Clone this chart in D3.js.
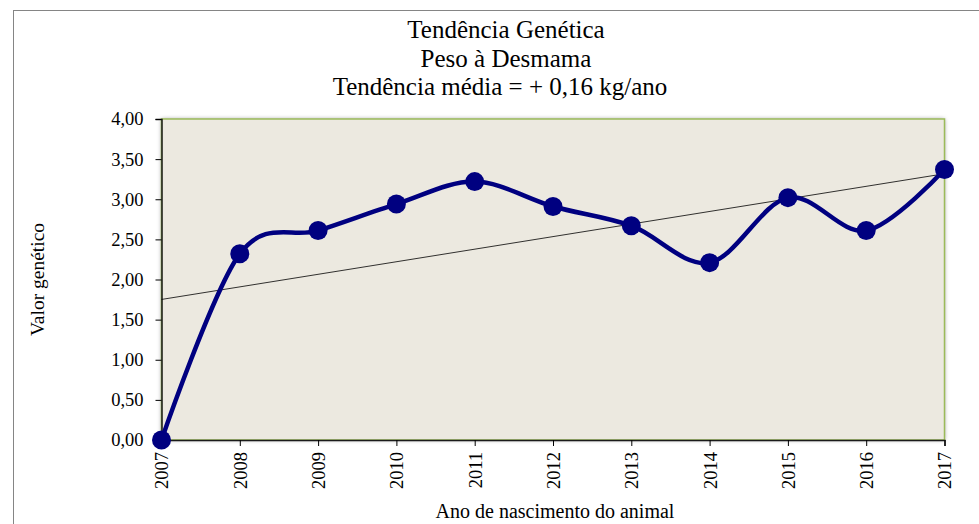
<!DOCTYPE html>
<html>
<head>
<meta charset="utf-8">
<script src="https://cdn.jsdelivr.net/npm/d3@7"></script>
<style>
  body { margin: 0; background: #fff; }
</style>
</head>
<body>
<svg width="979" height="524"></svg>
<script>
const years  = ['2007','2008','2009','2010','2011','2012','2013','2014','2015','2016','2017'];
const values = [0.00, 2.32, 2.61, 2.94, 3.22, 2.91, 2.67, 2.21, 3.02, 2.61, 3.37];
const yTicks = [0, 0.5, 1, 1.5, 2, 2.5, 3, 3.5, 4];
const titleLines = ['Tendência Genética', 'Peso à Desmama', 'Tendência média = + 0,16 kg/ano'];

const FONT = 'Liberation Serif, Times New Roman, serif';

const svg = d3.select('svg');
const width  = +svg.attr('width');
const height = +svg.attr('height');

const data = years.map((y, i) => ({ year: y, value: values[i] }));

const margin = { top: 119, left: 161.5, right: 34.5, bottom: 84 };
const innerWidth  = width - margin.left - margin.right;
const innerHeight = height - margin.top - margin.bottom;

// chart frame (runs off the right/bottom edge like the original)
svg.append('rect')
  .attr('x', 13.5).attr('y', 10.5)
  .attr('width', 1000).attr('height', 600)
  .attr('fill', 'none').attr('stroke', '#858585');

// soft shadow round the plot area
const defs = svg.append('defs');
defs.append('filter').attr('id', 'blur')
  .attr('x', '-5%').attr('y', '-5%').attr('width', '110%').attr('height', '110%')
  .append('feGaussianBlur').attr('stdDeviation', 2);

const g = svg.append('g')
  .attr('transform', `translate(${margin.left},${margin.top})`);

g.append('rect')
  .attr('width', innerWidth).attr('height', innerHeight)
  .attr('fill', '#9a9a9a').attr('filter', 'url(#blur)');

g.append('rect')
  .attr('width', innerWidth).attr('height', innerHeight)
  .attr('fill', '#ECE9E0')
  .attr('stroke', '#9BBB59').attr('stroke-width', 1.5);

const xScale = d3.scalePoint()
  .domain(years)
  .range([0, innerWidth]);

const yScale = d3.scaleLinear()
  .domain([0, 4])
  .range([innerHeight, 0]);

// axes
const yAxis = d3.axisLeft(yScale)
  .tickValues(yTicks)
  .tickSize(6).tickPadding(12)
  .tickFormat(d => d3.format('.2f')(d).replace('.', ','));
const yAxisG = g.append('g').call(yAxis).attr('font-family', FONT).attr('font-size', 18.5);
yAxisG.select('.domain').attr('stroke', '#1a1a1a').attr('stroke-width', 1.5);

const xAxis = d3.axisBottom(xScale).tickSize(6).tickPadding(0);
const xAxisG = g.append('g')
  .attr('transform', `translate(0,${innerHeight})`)
  .call(xAxis)
  .attr('font-family', FONT).attr('font-size', 18.5);
xAxisG.select('.domain').attr('stroke', '#1a1a1a').attr('stroke-width', 1.5);
xAxisG.selectAll('.tick text')
  .attr('text-anchor', 'end')
  .attr('dy', '0.35em')
  .attr('transform', 'translate(0,12) rotate(-90)')
  .attr('x', 0).attr('y', 0);

// linear trend (least squares over the series)
const n = values.length;
const mx = d3.mean(values, (d, i) => i);
const my = d3.mean(values);
const slope = d3.sum(values, (d, i) => (i - mx) * (d - my)) / d3.sum(values, (d, i) => (i - mx) ** 2);
const intercept = my - slope * mx;
g.append('line')
  .attr('x1', xScale(years[0])).attr('y1', yScale(intercept))
  .attr('x2', xScale(years[n - 1])).attr('y2', yScale(intercept + slope * (n - 1)))
  .attr('stroke', '#000').attr('stroke-width', 0.8);

// smoothed series
const line = d3.line()
  .x(d => xScale(d.year))
  .y(d => yScale(d.value))
  .curve(d3.curveCardinal.tension(0));
g.append('path')
  .attr('d', line(data))
  .attr('fill', 'none')
  .attr('stroke', '#000080')
  .attr('stroke-width', 4.5);

g.selectAll('circle').data(data).enter().append('circle')
  .attr('cx', d => xScale(d.year))
  .attr('cy', d => yScale(d.value))
  .attr('r', 9.5)
  .attr('fill', '#000080');

// titles
svg.append('g').selectAll('text').data(titleLines).enter().append('text')
  .attr('x', (d, i) => i < 2 ? 506 : 500)
  .attr('y', (d, i) => 38 + i * 28.5)
  .attr('text-anchor', 'middle')
  .attr('font-family', FONT)
  .attr('font-size', 25)
  .text(d => d);

svg.append('text')
  .attr('text-anchor', 'middle')
  .attr('transform', `translate(44,${margin.top + innerHeight / 2}) rotate(-90)`)
  .attr('font-family', FONT)
  .attr('font-size', 19.5)
  .text('Valor genético');

svg.append('text')
  .attr('text-anchor', 'middle')
  .attr('x', margin.left + innerWidth / 2 + 2)
  .attr('y', 518)
  .attr('font-family', FONT)
  .attr('font-size', 20)
  .text('Ano de nascimento do animal');
</script>
</body>
</html>
